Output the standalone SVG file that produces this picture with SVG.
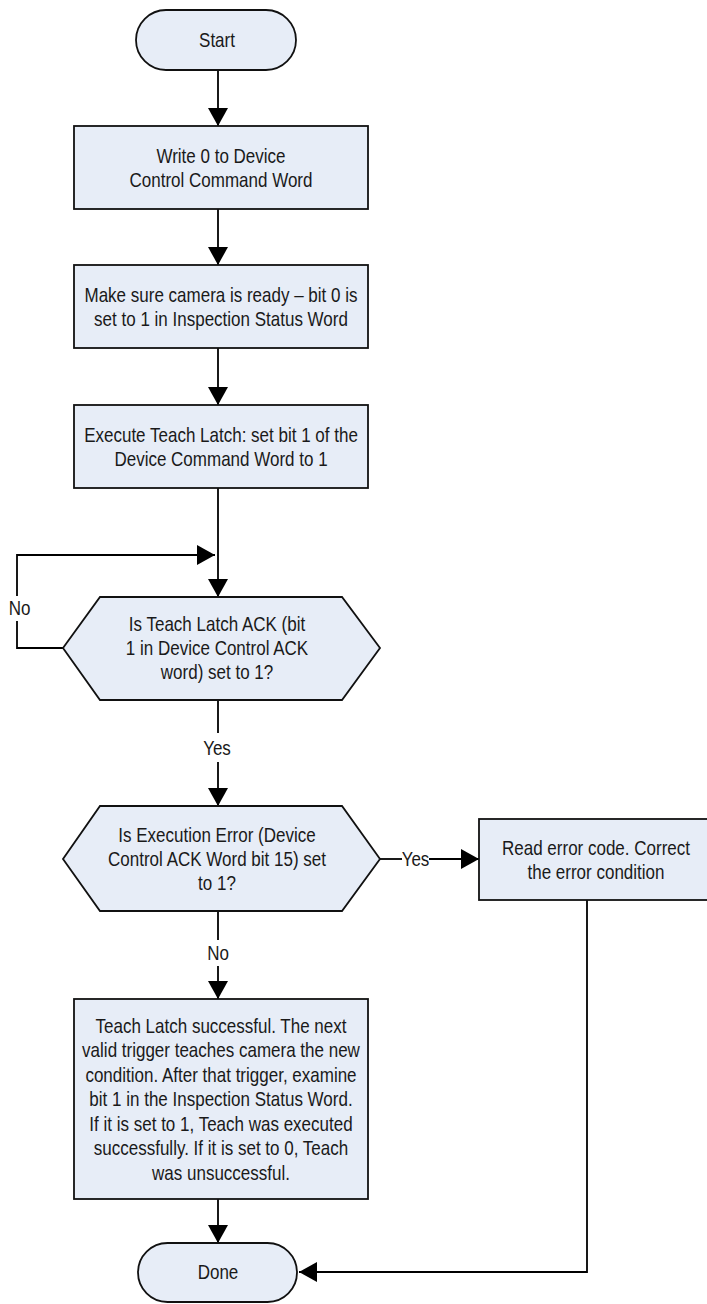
<svg xmlns="http://www.w3.org/2000/svg" width="707" height="1304" viewBox="0 0 707 1304">
<style>
.shape{fill:#E7EDF7;stroke:#111;stroke-width:1.8}
.line{fill:none;stroke:#000;stroke-width:1.8}
.t{font-family:"Liberation Sans",Arial,sans-serif;font-size:21px;fill:#1a1a1a;text-anchor:middle}
</style>
<defs>
<marker id="ah" markerUnits="userSpaceOnUse" markerWidth="20" markerHeight="22" refX="18" refY="10" orient="auto">
<path d="M0,0 L18,10 L0,20 Z" fill="#000"/>
</marker>
</defs>
<rect width="707" height="1304" fill="#fff"/>
<g id="connectors">
<path class="line" d="M218,70 V126" marker-end="url(#ah)"/>
<path class="line" d="M218,209 V265" marker-end="url(#ah)"/>
<path class="line" d="M218,348 V405" marker-end="url(#ah)"/>
<path class="line" d="M218,488 V597" marker-end="url(#ah)"/>
<path class="line" d="M63,648 H17 V621"/>
<path class="line" d="M17,596 V555 H215" marker-end="url(#ah)"/>
<path class="line" d="M218,700 V733"/>
<path class="line" d="M218,762 V806" marker-end="url(#ah)"/>
<path class="line" d="M380,859 H402"/>
<path class="line" d="M429,859 H479" marker-end="url(#ah)"/>
<path class="line" d="M218,911 V940"/>
<path class="line" d="M218,966 V999" marker-end="url(#ah)"/>
<path class="line" d="M218,1199 V1243" marker-end="url(#ah)"/>
<path class="line" d="M587,900 V1272 H299" marker-end="url(#ah)"/>
<g transform="translate(19.5,0) scale(0.81,1)"><text class="t" x="0" y="615.5">No</text></g>
<g transform="translate(217,0) scale(0.81,1)"><text class="t" x="0" y="755.5">Yes</text></g>
<g transform="translate(415.5,0) scale(0.81,1)"><text class="t" x="0" y="866.5">Yes</text></g>
<g transform="translate(218,0) scale(0.81,1)"><text class="t" x="0" y="960.5">No</text></g>
</g>
<g id="start">
<rect class="shape" x="136" y="10" width="160" height="60" rx="30"/>
<g transform="translate(217,0) scale(0.81,1)"><text class="t" x="0" y="47.5">Start</text></g>
</g>
<g id="write0">
<rect class="shape" x="74" y="126" width="294" height="83"/>
<g transform="translate(221,0) scale(0.81,1)">
<text class="t" x="0" y="163">Write 0 to Device</text>
<text class="t" x="0" y="187">Control Command Word</text>
</g>
</g>
<g id="ready">
<rect class="shape" x="74" y="265" width="294" height="83"/>
<g transform="translate(221,0) scale(0.81,1)">
<text class="t" x="0" y="302">Make sure camera is ready – bit 0 is</text>
<text class="t" x="0" y="326">set to 1 in Inspection Status Word</text>
</g>
</g>
<g id="execute">
<rect class="shape" x="74" y="405" width="294" height="83"/>
<g transform="translate(221,0) scale(0.81,1)">
<text class="t" x="0" y="442">Execute Teach Latch: set bit 1 of the</text>
<text class="t" x="0" y="466">Device Command Word to 1</text>
</g>
</g>
<g id="ackcheck">
<polygon class="shape" points="100,597 342,597 380,648 342,700 100,700 63,648"/>
<g transform="translate(217,0) scale(0.81,1)">
<text class="t" x="0" y="631.5">Is Teach Latch ACK (bit</text>
<text class="t" x="0" y="655.5">1 in Device Control ACK</text>
<text class="t" x="0" y="679.5">word) set to 1?</text>
</g>
</g>
<g id="errcheck">
<polygon class="shape" points="100,806 342,806 380,859 342,911 100,911 63,859"/>
<g transform="translate(217,0) scale(0.81,1)">
<text class="t" x="0" y="842.5">Is Execution Error (Device</text>
<text class="t" x="0" y="866.5">Control ACK Word bit 15) set</text>
<text class="t" x="0" y="890.5">to 1?</text>
</g>
</g>
<g id="readerror">
<rect class="shape" x="479" y="819" width="234" height="81"/>
<g transform="translate(596,0) scale(0.81,1)">
<text class="t" x="0" y="855">Read error code. Correct</text>
<text class="t" x="0" y="879">the error condition</text>
</g>
</g>
<g id="success">
<rect class="shape" x="74" y="999" width="294" height="200"/>
<g transform="translate(221,0) scale(0.81,1)">
<text class="t" x="0" y="1033">Teach Latch successful. The next</text>
<text class="t" x="0" y="1057.5">valid trigger teaches camera the new</text>
<text class="t" x="0" y="1082">condition. After that trigger, examine</text>
<text class="t" x="0" y="1106.5">bit 1 in the Inspection Status Word.</text>
<text class="t" x="0" y="1131">If it is set to 1, Teach was executed</text>
<text class="t" x="0" y="1155.5">successfully. If it is set to 0, Teach</text>
<text class="t" x="0" y="1180">was unsuccessful.</text>
</g>
</g>
<g id="done">
<rect class="shape" x="138" y="1243" width="159" height="59" rx="29.5"/>
<g transform="translate(218,0) scale(0.81,1)"><text class="t" x="0" y="1279.5">Done</text></g>
</g>
</svg>
